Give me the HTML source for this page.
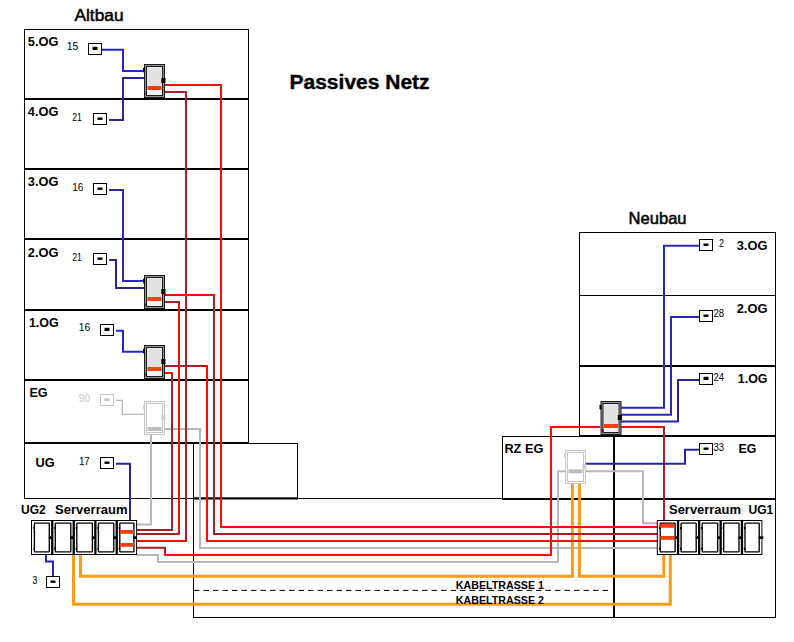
<!DOCTYPE html>
<html><head><meta charset="utf-8"><title>Passives Netz</title>
<style>
html,body{margin:0;padding:0;background:#fff;}
body{width:794px;height:642px;overflow:hidden;}
svg{display:block;font-family:"Liberation Sans",sans-serif;}
</style></head><body>
<svg width="794" height="642" viewBox="0 0 794 642">
<rect width="794" height="642" fill="#fff"/>
<rect x="24" y="29" width="225" height="1" fill="#000"/>
<rect x="24" y="29" width="1" height="470" fill="#000"/>
<rect x="248" y="29" width="1" height="414" fill="#000"/>
<rect x="24" y="98" width="225" height="2" fill="#000"/>
<rect x="24" y="168" width="225" height="2" fill="#000"/>
<rect x="24" y="238" width="225" height="2" fill="#000"/>
<rect x="24" y="309" width="225" height="2" fill="#000"/>
<rect x="24" y="379" width="225" height="2" fill="#000"/>
<rect x="24" y="442" width="225" height="2" fill="#000"/>
<rect x="248" y="443" width="50" height="1" fill="#000"/>
<rect x="297" y="443" width="1" height="56" fill="#000"/>
<rect x="24" y="498" width="479" height="1" fill="#000"/>
<rect x="193" y="497.3" width="105" height="2.2" fill="#000"/>
<rect x="193" y="443" width="1" height="175" fill="#000"/>
<rect x="193" y="617" width="583" height="1" fill="#000"/>
<rect x="775" y="232" width="1" height="386" fill="#000"/>
<rect x="502" y="498" width="274" height="2" fill="#000"/>
<rect x="502" y="436" width="1" height="63" fill="#000"/>
<rect x="502" y="436" width="78" height="1" fill="#000"/>
<rect x="579" y="232" width="1" height="205" fill="#000"/>
<rect x="579" y="232" width="197" height="1" fill="#000"/>
<rect x="579" y="295" width="197" height="1" fill="#000"/>
<rect x="579" y="365" width="197" height="2" fill="#000"/>
<rect x="579" y="435" width="197" height="2" fill="#000"/>
<rect x="613" y="436" width="2" height="182" fill="#000"/>
<rect x="100.5" y="394.5" width="13" height="11" fill="#fff" stroke="#c0c0c0" stroke-width="1"/>
<rect x="104.5" y="398.5" width="5" height="2.4" fill="#c0c0c0"/>
<path d="M116 400.3 L122.3 400.3 L122.3 414.4 L144 414.4" fill="none" stroke="#b8b6b6" stroke-width="1.3" stroke-linejoin="miter" stroke-linecap="butt" />
<path d="M165 429 L200 429 L200 548 L657 548" fill="none" stroke="#b8b6b6" stroke-width="2" stroke-linejoin="miter" stroke-linecap="butt" />
<path d="M151 435 L151 524.5 L137 524.5" fill="none" stroke="#b8b6b6" stroke-width="2" stroke-linejoin="miter" stroke-linecap="butt" />
<path d="M137 555 L158 555 L158 562 L558 562 L558 471.3 L566 471.3" fill="none" stroke="#b8b6b6" stroke-width="2" stroke-linejoin="miter" stroke-linecap="butt" />
<path d="M586 471.3 L643 471.3 L643 523.2 L657 523.2" fill="none" stroke="#b8b6b6" stroke-width="2" stroke-linejoin="miter" stroke-linecap="butt" />
<path d="M73.5 555 L73.5 604.3 L670.3 604.3 L670.3 555" fill="none" stroke="#f59d16" stroke-width="3" stroke-linejoin="miter" stroke-linecap="butt" />
<path d="M80.4 555 L80.4 576.3 L572.4 576.3 L572.4 484" fill="none" stroke="#f59d16" stroke-width="3" stroke-linejoin="miter" stroke-linecap="butt" />
<path d="M579.4 484 L579.4 576.3 L663.8 576.3 L663.8 555" fill="none" stroke="#f59d16" stroke-width="3" stroke-linejoin="miter" stroke-linecap="butt" />
<path d="M165 85 L221 85 L221 527 L657 527" fill="none" stroke="#fb0a0a" stroke-width="2" stroke-linejoin="miter" stroke-linecap="butt" />
<path d="M165 92 L186 92 L186 542" fill="none" stroke="#a92024" stroke-width="2" stroke-linejoin="miter" stroke-linecap="butt" />
<path d="M187 541 L137 541" fill="none" stroke="#fb0a0a" stroke-width="2" stroke-linejoin="miter" stroke-linecap="butt" />
<path d="M214 294 L214 534 L657 534" fill="none" stroke="#a92024" stroke-width="2" stroke-linejoin="miter" stroke-linecap="butt" />
<path d="M165 295 L215 295" fill="none" stroke="#fb0a0a" stroke-width="2" stroke-linejoin="miter" stroke-linecap="butt" />
<path d="M179 301 L179 535" fill="none" stroke="#fb0a0a" stroke-width="2" stroke-linejoin="miter" stroke-linecap="butt" />
<path d="M178 534 L137 534" fill="none" stroke="#a92024" stroke-width="2" stroke-linejoin="miter" stroke-linecap="butt" />
<path d="M165 302 L180 302" fill="none" stroke="#a92024" stroke-width="2" stroke-linejoin="miter" stroke-linecap="butt" />
<path d="M207 365 L207 541 L657 541" fill="none" stroke="#fb0a0a" stroke-width="2" stroke-linejoin="miter" stroke-linecap="butt" />
<path d="M165 366 L206 366" fill="none" stroke="#a92024" stroke-width="2" stroke-linejoin="miter" stroke-linecap="butt" />
<path d="M172 372 L172 530 L137 530" fill="none" stroke="#a92024" stroke-width="2" stroke-linejoin="miter" stroke-linecap="butt" />
<path d="M165 373 L171 373" fill="none" stroke="#fb0a0a" stroke-width="2" stroke-linejoin="miter" stroke-linecap="butt" />
<path d="M137 547.7 L165 547.7 L165 555" fill="none" stroke="#a92024" stroke-width="2" stroke-linejoin="miter" stroke-linecap="butt" />
<path d="M164 555 L551 555 L551 427 L600 427" fill="none" stroke="#fb0a0a" stroke-width="2" stroke-linejoin="miter" stroke-linecap="butt" />
<path d="M621 427 L665 427" fill="none" stroke="#fb0a0a" stroke-width="2" stroke-linejoin="miter" stroke-linecap="butt" />
<path d="M664 426 L664 521" fill="none" stroke="#a92024" stroke-width="2" stroke-linejoin="miter" stroke-linecap="butt" />
<path d="M102 49.8 L123 49.8 L123 71 L144 71" fill="none" stroke="#2525cc" stroke-width="2" stroke-linejoin="miter" stroke-linecap="butt" />
<path d="M109 120 L123 120 L123 78 L144 78" fill="none" stroke="#26269a" stroke-width="2" stroke-linejoin="miter" stroke-linecap="butt" />
<path d="M109 190 L123 190 L123 281 L144 281" fill="none" stroke="#2929b8" stroke-width="2" stroke-linejoin="miter" stroke-linecap="butt" />
<path d="M109 260 L116 260 L116 288 L144 288" fill="none" stroke="#26269a" stroke-width="2" stroke-linejoin="miter" stroke-linecap="butt" />
<path d="M116 330.8 L123 330.8 L123 351.8 L144 351.8" fill="none" stroke="#2525cc" stroke-width="2" stroke-linejoin="miter" stroke-linecap="butt" />
<path d="M116 463.7 L130 463.7 L130 521" fill="none" stroke="#26269a" stroke-width="2" stroke-linejoin="miter" stroke-linecap="butt" />
<path d="M46 555 L46 561.5 L53 561.5 L53 576" fill="none" stroke="#2929b8" stroke-width="2" stroke-linejoin="miter" stroke-linecap="butt" />
<path d="M699 245.8 L664 245.8 L664 407.8 L621 407.8" fill="none" stroke="#2929b8" stroke-width="2" stroke-linejoin="miter" stroke-linecap="butt" />
<path d="M699 317 L671 317 L671 414.8 L621 414.8" fill="none" stroke="#2929b8" stroke-width="2" stroke-linejoin="miter" stroke-linecap="butt" />
<path d="M699 380 L678 380 L678 421.6 L621 421.6" fill="none" stroke="#26269a" stroke-width="2" stroke-linejoin="miter" stroke-linecap="butt" />
<path d="M699 449.8 L685 449.8 L685 463.8 L586 463.8" fill="none" stroke="#26269a" stroke-width="2" stroke-linejoin="miter" stroke-linecap="butt" />
<rect x="144.5" y="64.5" width="20" height="33" fill="#949494" stroke="#1c1c1c" stroke-width="1"/>
<rect x="146.5" y="66.5" width="16" height="29" fill="#f3f3f3" stroke="#1c1c1c" stroke-width="1"/>
<rect x="147.5" y="67.5" width="14" height="18.5" fill="#e2e2e2"/>
<rect x="147.5" y="86" width="14" height="4" fill="#f2420f"/>
<rect x="161.3" y="78" width="4.2" height="5" fill="#000"/>
<rect x="143" y="67.8" width="2" height="4.5" fill="#000"/>
<rect x="145.5" y="92.5" width="1.5" height="2" fill="#000"/>
<rect x="144.5" y="275.5" width="20" height="33" fill="#949494" stroke="#1c1c1c" stroke-width="1"/>
<rect x="146.5" y="277.5" width="16" height="29" fill="#f3f3f3" stroke="#1c1c1c" stroke-width="1"/>
<rect x="147.5" y="278.5" width="14" height="18.5" fill="#e2e2e2"/>
<rect x="147.5" y="297" width="14" height="4" fill="#f2420f"/>
<rect x="161.3" y="289" width="4.2" height="5" fill="#000"/>
<rect x="143" y="278.8" width="2" height="4.5" fill="#000"/>
<rect x="145.5" y="303.5" width="1.5" height="2" fill="#000"/>
<rect x="144.5" y="345.5" width="20" height="33" fill="#949494" stroke="#1c1c1c" stroke-width="1"/>
<rect x="146.5" y="347.5" width="16" height="29" fill="#f3f3f3" stroke="#1c1c1c" stroke-width="1"/>
<rect x="147.5" y="348.5" width="14" height="18.5" fill="#e2e2e2"/>
<rect x="147.5" y="367" width="14" height="4" fill="#f2420f"/>
<rect x="161.3" y="359" width="4.2" height="5" fill="#000"/>
<rect x="143" y="348.8" width="2" height="4.5" fill="#000"/>
<rect x="145.5" y="373.5" width="1.5" height="2" fill="#000"/>
<rect x="144.5" y="401.5" width="20" height="33" fill="#f6f6f6" stroke="#c6c6c6" stroke-width="1"/>
<rect x="146.5" y="403.5" width="16" height="29" fill="#fff" stroke="#c6c6c6" stroke-width="1"/>
<rect x="147.5" y="404.5" width="14" height="22.5" fill="#ffffff"/>
<rect x="147.5" y="427" width="14" height="4" fill="#bdbdbd"/>
<rect x="161.3" y="415" width="4.2" height="5" fill="#cfcfcf"/>
<rect x="143" y="404.8" width="2" height="4.5" fill="#cfcfcf"/>
<rect x="145.5" y="429.5" width="1.5" height="2" fill="#cfcfcf"/>
<rect x="601.0" y="401.5" width="20" height="33" fill="#949494" stroke="#1c1c1c" stroke-width="1"/>
<rect x="603.0" y="403.5" width="16" height="29" fill="#f3f3f3" stroke="#1c1c1c" stroke-width="1"/>
<rect x="604.0" y="404.5" width="14" height="19.5" fill="#e2e2e2"/>
<rect x="604.0" y="424" width="14" height="4" fill="#f2420f"/>
<rect x="617.8" y="415" width="4.2" height="5" fill="#000"/>
<rect x="599.5" y="404.8" width="2" height="4.5" fill="#000"/>
<rect x="602.0" y="429.5" width="1.5" height="2" fill="#000"/>
<rect x="565.5" y="450.5" width="20" height="33" fill="#f6f6f6" stroke="#c6c6c6" stroke-width="1"/>
<rect x="567.5" y="452.5" width="16" height="29" fill="#fff" stroke="#c6c6c6" stroke-width="1"/>
<rect x="568.5" y="453.5" width="14" height="15.8" fill="#ffffff"/>
<rect x="568.5" y="469.3" width="14" height="4" fill="#bdbdbd"/>
<rect x="582.3" y="464" width="4.2" height="5" fill="#cfcfcf"/>
<rect x="564" y="453.8" width="2" height="4.5" fill="#cfcfcf"/>
<rect x="566.5" y="478.5" width="1.5" height="2" fill="#cfcfcf"/>
<rect x="31.5" y="520.5" width="105.10000000000001" height="34" fill="#fff" stroke="#000" stroke-width="1"/>
<rect x="51.1" y="520" width="2.3" height="35" fill="#000"/>
<rect x="72.60000000000001" y="520" width="2.3" height="35" fill="#000"/>
<rect x="94.2" y="520" width="2.3" height="35" fill="#000"/>
<rect x="115.60000000000001" y="520" width="2.3" height="35" fill="#000"/>
<rect x="34.4" y="523.1" width="14.900000000000002" height="28.8" rx="0.4" fill="#fff" stroke="#000" stroke-width="1.35"/>
<rect x="48.800000000000004" y="536.3" width="3.4" height="2.7" fill="#000"/>
<rect x="33.3" y="527" width="1.5" height="2.2" fill="#000"/>
<rect x="33.3" y="547.5" width="1.5" height="2.2" fill="#000"/>
<rect x="55.300000000000004" y="523.1" width="15.5" height="28.8" rx="0.4" fill="#fff" stroke="#000" stroke-width="1.35"/>
<rect x="70.3" y="536.3" width="3.4" height="2.7" fill="#000"/>
<rect x="54.2" y="527" width="1.5" height="2.2" fill="#000"/>
<rect x="54.2" y="547.5" width="1.5" height="2.2" fill="#000"/>
<rect x="76.8" y="523.1" width="15.599999999999994" height="28.8" rx="0.4" fill="#fff" stroke="#000" stroke-width="1.35"/>
<rect x="91.89999999999999" y="536.3" width="3.4" height="2.7" fill="#000"/>
<rect x="75.7" y="527" width="1.5" height="2.2" fill="#000"/>
<rect x="75.7" y="547.5" width="1.5" height="2.2" fill="#000"/>
<rect x="98.39999999999999" y="523.1" width="15.400000000000006" height="28.8" rx="0.4" fill="#fff" stroke="#000" stroke-width="1.35"/>
<rect x="113.3" y="536.3" width="3.4" height="2.7" fill="#000"/>
<rect x="97.3" y="527" width="1.5" height="2.2" fill="#000"/>
<rect x="97.3" y="547.5" width="1.5" height="2.2" fill="#000"/>
<rect x="119.8" y="523.1" width="14.100000000000009" height="28.8" rx="0.4" fill="#fff" stroke="#000" stroke-width="1.35"/>
<rect x="133.4" y="536.3" width="3.4" height="2.7" fill="#000"/>
<rect x="118.7" y="527" width="1.5" height="2.2" fill="#000"/>
<rect x="118.7" y="547.5" width="1.5" height="2.2" fill="#000"/>
<rect x="120.0" y="530" width="14" height="3.8" fill="#f2400f"/>
<rect x="120.0" y="543" width="14" height="3.8" fill="#f2400f"/>
<rect x="657.3000000000001" y="520.5" width="104.6" height="34" fill="#fff" stroke="#000" stroke-width="1"/>
<rect x="676.9" y="520" width="2.3" height="35" fill="#000"/>
<rect x="698.0" y="520" width="2.3" height="35" fill="#000"/>
<rect x="719.5" y="520" width="2.3" height="35" fill="#000"/>
<rect x="740.8" y="520" width="2.3" height="35" fill="#000"/>
<rect x="660.2" y="523.1" width="14.899999999999977" height="28.8" rx="0.4" fill="#fff" stroke="#000" stroke-width="1.35"/>
<rect x="674.6" y="536.3" width="3.4" height="2.7" fill="#000"/>
<rect x="659.1" y="527" width="1.5" height="2.2" fill="#000"/>
<rect x="659.1" y="547.5" width="1.5" height="2.2" fill="#000"/>
<rect x="660.4" y="524" width="14" height="3.8" fill="#f2400f"/>
<rect x="660.4" y="536" width="14" height="3.8" fill="#f2400f"/>
<rect x="681.1" y="523.1" width="15.100000000000023" height="28.8" rx="0.4" fill="#fff" stroke="#000" stroke-width="1.35"/>
<rect x="695.7" y="536.3" width="3.4" height="2.7" fill="#000"/>
<rect x="680.0" y="527" width="1.5" height="2.2" fill="#000"/>
<rect x="680.0" y="547.5" width="1.5" height="2.2" fill="#000"/>
<rect x="702.2" y="523.1" width="15.5" height="28.8" rx="0.4" fill="#fff" stroke="#000" stroke-width="1.35"/>
<rect x="717.2" y="536.3" width="3.4" height="2.7" fill="#000"/>
<rect x="701.1" y="527" width="1.5" height="2.2" fill="#000"/>
<rect x="701.1" y="547.5" width="1.5" height="2.2" fill="#000"/>
<rect x="723.7" y="523.1" width="15.299999999999955" height="28.8" rx="0.4" fill="#fff" stroke="#000" stroke-width="1.35"/>
<rect x="738.5" y="536.3" width="3.4" height="2.7" fill="#000"/>
<rect x="722.6" y="527" width="1.5" height="2.2" fill="#000"/>
<rect x="722.6" y="547.5" width="1.5" height="2.2" fill="#000"/>
<rect x="745.0" y="523.1" width="14.200000000000045" height="28.8" rx="0.4" fill="#fff" stroke="#000" stroke-width="1.35"/>
<rect x="758.7" y="536.3" width="4.6" height="2.7" fill="#000"/>
<rect x="743.9" y="527" width="1.5" height="2.2" fill="#000"/>
<rect x="743.9" y="547.5" width="1.5" height="2.2" fill="#000"/>
<rect x="88.5" y="43.5" width="13" height="11" fill="#fff" stroke="#000" stroke-width="1"/>
<rect x="92.5" y="46.8" width="5" height="3.2" fill="#000"/>
<rect x="93.5" y="113.5" width="13" height="11" fill="#fff" stroke="#000" stroke-width="1"/>
<rect x="97.5" y="117.5" width="5" height="2.4" fill="#000"/>
<rect x="93.5" y="183.5" width="13" height="11" fill="#fff" stroke="#000" stroke-width="1"/>
<rect x="97.5" y="187.5" width="5" height="2.4" fill="#000"/>
<rect x="93.5" y="253.5" width="13" height="11" fill="#fff" stroke="#000" stroke-width="1"/>
<rect x="97.5" y="257.5" width="5" height="2.4" fill="#000"/>
<rect x="100.5" y="324.5" width="13" height="11" fill="#fff" stroke="#000" stroke-width="1"/>
<rect x="104.5" y="327.8" width="5" height="3.2" fill="#000"/>
<rect x="100.5" y="457.5" width="13" height="11" fill="#fff" stroke="#000" stroke-width="1"/>
<rect x="104.5" y="461.5" width="5" height="2.4" fill="#000"/>
<rect x="46.5" y="576.5" width="13" height="11" fill="#fff" stroke="#000" stroke-width="1"/>
<rect x="50.5" y="580.5" width="5" height="2.4" fill="#000"/>
<rect x="699.5" y="239.5" width="13" height="11" fill="#fff" stroke="#000" stroke-width="1"/>
<rect x="703.5" y="243.5" width="5" height="2.4" fill="#000"/>
<rect x="699.5" y="310.5" width="13" height="11" fill="#fff" stroke="#000" stroke-width="1"/>
<rect x="703.5" y="314.5" width="5" height="2.4" fill="#000"/>
<rect x="699.5" y="373.5" width="13" height="11" fill="#fff" stroke="#000" stroke-width="1"/>
<rect x="703.5" y="376.8" width="5" height="3.2" fill="#000"/>
<rect x="699.5" y="443.5" width="13" height="11" fill="#fff" stroke="#000" stroke-width="1"/>
<rect x="703.5" y="447.5" width="5" height="2.4" fill="#000"/>
<text x="74.5" y="21" font-size="16.5" font-weight="normal" fill="#000" stroke="#000" stroke-width="0.5" textLength="49.0" lengthAdjust="spacingAndGlyphs">Altbau</text>
<text x="628.6" y="223.7" font-size="16.5" font-weight="normal" fill="#000" stroke="#000" stroke-width="0.5" textLength="58.0" lengthAdjust="spacingAndGlyphs">Neubau</text>
<text x="289.5" y="89" font-size="20" font-weight="bold" fill="#000" stroke="#000" stroke-width="0.4" textLength="140.1" lengthAdjust="spacingAndGlyphs">Passives Netz</text>
<text x="27.8" y="45.8" font-size="13.5" font-weight="bold" fill="#000" textLength="30.7" lengthAdjust="spacingAndGlyphs">5.OG</text>
<text x="27.8" y="115.8" font-size="13.5" font-weight="bold" fill="#000" textLength="30.7" lengthAdjust="spacingAndGlyphs">4.OG</text>
<text x="27.8" y="185.8" font-size="13.5" font-weight="bold" fill="#000" textLength="30.7" lengthAdjust="spacingAndGlyphs">3.OG</text>
<text x="27.8" y="256.5" font-size="13.5" font-weight="bold" fill="#000" textLength="30.7" lengthAdjust="spacingAndGlyphs">2.OG</text>
<text x="28.9" y="326.8" font-size="13.5" font-weight="bold" fill="#000" textLength="29.7" lengthAdjust="spacingAndGlyphs">1.OG</text>
<text x="29.4" y="397" font-size="13.5" font-weight="bold" fill="#000" textLength="18.2" lengthAdjust="spacingAndGlyphs">EG</text>
<text x="35.4" y="466.9" font-size="13.5" font-weight="bold" fill="#000" textLength="19.2" lengthAdjust="spacingAndGlyphs">UG</text>
<text x="21.1" y="513.6" font-size="13.3" font-weight="bold" fill="#000" textLength="24.7" lengthAdjust="spacingAndGlyphs">UG2</text>
<text x="55.1" y="513.6" font-size="13.3" font-weight="bold" fill="#000" textLength="72.4" lengthAdjust="spacingAndGlyphs">Serverraum</text>
<text x="669" y="513.6" font-size="13.3" font-weight="bold" fill="#000" textLength="72" lengthAdjust="spacingAndGlyphs">Serverraum</text>
<text x="748.4" y="513.6" font-size="13.3" font-weight="bold" fill="#000" textLength="24.9" lengthAdjust="spacingAndGlyphs">UG1</text>
<text x="504.4" y="452.8" font-size="13.5" font-weight="bold" fill="#000" textLength="39.0" lengthAdjust="spacingAndGlyphs">RZ EG</text>
<text x="736.7" y="249.6" font-size="13.5" font-weight="bold" fill="#000" textLength="30.7" lengthAdjust="spacingAndGlyphs">3.OG</text>
<text x="736.7" y="313.1" font-size="13.5" font-weight="bold" fill="#000" textLength="30.7" lengthAdjust="spacingAndGlyphs">2.OG</text>
<text x="737.8" y="382.8" font-size="13.5" font-weight="bold" fill="#000" textLength="29.6" lengthAdjust="spacingAndGlyphs">1.OG</text>
<text x="738.6" y="452.9" font-size="13.5" font-weight="bold" fill="#000" textLength="17.9" lengthAdjust="spacingAndGlyphs">EG</text>
<text x="66.7" y="50" font-size="11" font-weight="normal" fill="#000" textLength="11.7" lengthAdjust="spacingAndGlyphs">15</text>
<text x="72.2" y="120.9" font-size="11" font-weight="normal" fill="#000" textLength="9.6" lengthAdjust="spacingAndGlyphs">21</text>
<text x="72.2" y="190.8" font-size="11" font-weight="normal" fill="#000" textLength="11.2" lengthAdjust="spacingAndGlyphs">16</text>
<text x="72.2" y="260.9" font-size="11" font-weight="normal" fill="#000" textLength="9.6" lengthAdjust="spacingAndGlyphs">21</text>
<text x="78.8" y="331" font-size="11" font-weight="normal" fill="#000" textLength="11.5" lengthAdjust="spacingAndGlyphs">16</text>
<text x="78.9" y="464.7" font-size="11" font-weight="normal" fill="#000" textLength="10.9" lengthAdjust="spacingAndGlyphs">17</text>
<text x="32.2" y="583.8" font-size="11" font-weight="normal" fill="#000" textLength="5.2" lengthAdjust="spacingAndGlyphs">3</text>
<text x="719.1" y="246.9" font-size="11" font-weight="normal" fill="#000" textLength="4.9" lengthAdjust="spacingAndGlyphs">2</text>
<text x="713.4" y="317" font-size="11" font-weight="normal" fill="#000" textLength="10.6" lengthAdjust="spacingAndGlyphs">28</text>
<text x="713.4" y="381" font-size="11" font-weight="normal" fill="#000" textLength="10.6" lengthAdjust="spacingAndGlyphs">24</text>
<text x="713.4" y="451.1" font-size="11" font-weight="normal" fill="#000" textLength="10.6" lengthAdjust="spacingAndGlyphs">33</text>
<text x="78.8" y="401.8" font-size="11" font-weight="normal" fill="#c6c6c6" textLength="11.5" lengthAdjust="spacingAndGlyphs">90</text>
<text x="455.8" y="588.7" font-size="11.5" font-weight="bold" fill="#000" textLength="88.1" lengthAdjust="spacingAndGlyphs">KABELTRASSE 1</text>
<text x="455.8" y="603.5" font-size="11.5" font-weight="bold" fill="#000" textLength="88.1" lengthAdjust="spacingAndGlyphs">KABELTRASSE 2</text>
<path d="M194 590.4 H610" stroke="#000" stroke-width="1" stroke-dasharray="5.5 4" fill="none"/>
</svg>
</body></html>
